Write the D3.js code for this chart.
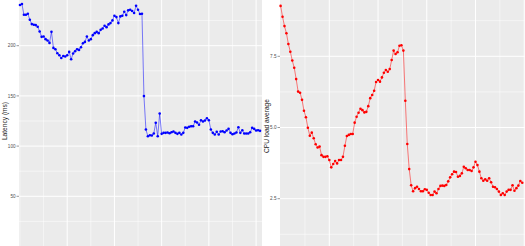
<!DOCTYPE html>
<html>
<meta charset="utf-8">

<style>
    body {
        margin: 0;
        background: #fff;
    }

    .tick-label {
        font: 4.6px "Liberation Sans", Arial, sans-serif;
        fill: #4d4d4d;
    }

    .axis-title {
        font: 6.6px "Liberation Sans", Arial, sans-serif;
        fill: #1a1a1a;
    }
</style>

<body>
    <script src="https://cdnjs.cloudflare.com/ajax/libs/d3/7.8.5/d3.min.js"></script>
    <div id="chart"></div>
    <script>
        // latency (ms), one value per sample
        var latency = [240.5, 241.5, 230.8, 230.8, 231.8, 225.8, 221.5, 220.8, 220.5, 218.8,
            214.2, 208.8, 209.2, 206.5, 205.2, 202.8, 213.8, 197.8, 196.5, 192.5,
            190.5, 187.8, 189.8, 189.2, 190.5, 193.8, 186.5, 192.2, 194.5, 196.5,
            195.8, 198.5, 202.5, 203.8, 209.2, 205.2, 206.5, 210.5, 212.5, 213.8,
            212.5, 215.8, 217.2, 219.8, 218.5, 221.2, 222.5, 225.2, 229.8, 228.5,
            222.5, 229.2, 229.8, 233.8, 230.5, 235.2, 235.8, 234.5, 232.5, 239.8,
            235.8, 231.5, 231.8, 149.8, 116.5, 109.8, 110.8, 110.5, 112.5, 123.2,
            109.8, 132.5, 112.2, 113.2, 113.2, 113.5, 112.8, 113.8, 114.5, 113.2,
            112.2, 113.2, 111.5, 113.2, 118.5, 118.2, 119.2, 119.8, 119.8, 124.5,
            123.5, 121.2, 125.8, 124.5, 125.5, 127.8, 125.8, 116.5, 113.2, 111.5,
            114.2, 111.5, 114.5, 114.8, 113.8, 115.5, 117.2, 113.2, 111.8, 112.5,
            113.5, 118.8, 113.2, 115.8, 112.5, 112.5, 112.5, 113.8, 118.2, 117.2,
            115.5, 115.8, 115.2];

        // CPU load average, one value per sample
        var cpuLoad = [9.27, 8.89, 8.56, 8.31, 7.93, 7.66, 7.35, 7.10, 6.70, 6.26,
            6.22, 5.97, 5.59, 5.36, 4.99, 4.71, 4.82, 4.62, 4.41, 4.30,
            4.33, 4.03, 3.97, 3.97, 3.99, 3.86, 3.60, 3.72, 3.82, 3.74,
            3.86, 3.86, 3.97, 4.36, 4.70, 4.74, 4.77, 4.77, 5.17, 5.38,
            5.52, 5.66, 5.61, 5.53, 5.55, 5.75, 6.03, 6.14, 6.29, 6.60,
            6.67, 6.61, 6.76, 6.92, 7.02, 6.96, 7.05, 7.37, 7.70, 7.58,
            7.64, 7.87, 7.89, 7.70, 5.94, 4.42, 3.54, 2.97, 2.76, 2.87,
            2.92, 2.84, 2.76, 2.76, 2.83, 2.81, 2.71, 2.63, 2.63, 2.75,
            2.69, 2.84, 2.95, 2.96, 2.95, 2.98, 3.11, 3.25, 3.36, 3.45,
            3.44, 3.27, 3.30, 3.39, 3.62, 3.57, 3.51, 3.51, 3.47, 3.60,
            3.80, 3.68, 3.45, 3.22, 3.13, 3.18, 3.13, 3.22, 3.08, 2.92,
            2.90, 2.84, 2.75, 2.63, 2.69, 2.63, 2.75, 2.81, 2.81, 2.97,
            2.78, 2.87, 2.96, 3.12, 3.06];

        var latencyBreaks = [50, 100, 150, 200];
        var latencyLabels = ["50", "100", "150", "200"];
        var latencyMinor = [25, 75, 125, 175, 225];

        var cpuBreaks = [2.5, 5.0, 7.5];
        var cpuLabels = ["2.5", "5.0", "7.5"];
        var cpuMinor = [1.25, 3.75, 6.25, 8.75];

        // x is the sample index
        var latencyXBreaks = [24, 48, 72, 96, 120];
        var latencyXMinor = [0, 12, 36, 60, 84, 108];
        var cpuXBreaks = [25, 50, 75, 100, 125];
        var cpuXMinor = [12.5, 37.5, 62.5, 87.5, 112.5];

        var W = 525, H = 246;

        var svg = d3.select("#chart").append("svg")
            .attr("width", W)
            .attr("height", H);

        function drawPanel(p) {
            var g = svg.append("g");

            var x = d3.scaleLinear().domain(p.xDomain).range([p.left, p.right]);
            var y = d3.scaleLinear().domain(p.yDomain).range(p.yRange);

            g.append("rect")
                .attr("x", p.left)
                .attr("y", p.top)
                .attr("width", p.right - p.left)
                .attr("height", H - p.top)
                .attr("fill", "#ebebeb");

            // minor grid
            g.selectAll(".ymin").data(p.yMinor).enter().append("line")
                .attr("x1", p.left).attr("x2", p.right)
                .attr("y1", y).attr("y2", y)
                .attr("stroke", "#fff").attr("stroke-width", 0.5);
            g.selectAll(".xmin").data(p.xMinor).enter().append("line")
                .attr("x1", x).attr("x2", x)
                .attr("y1", p.top).attr("y2", H)
                .attr("stroke", "#fff").attr("stroke-width", 0.5);

            // major grid
            g.selectAll(".ymaj").data(p.yBreaks).enter().append("line")
                .attr("x1", p.left).attr("x2", p.right)
                .attr("y1", y).attr("y2", y)
                .attr("stroke", "#fff").attr("stroke-width", 1);
            g.selectAll(".xmaj").data(p.xBreaks).enter().append("line")
                .attr("x1", x).attr("x2", x)
                .attr("y1", p.top).attr("y2", H)
                .attr("stroke", "#fff").attr("stroke-width", 1);

            // ticks + labels
            g.selectAll(".tk").data(p.yBreaks).enter().append("line")
                .attr("x1", p.left - 2.5).attr("x2", p.left)
                .attr("y1", y).attr("y2", y)
                .attr("stroke", "#333").attr("stroke-width", 0.5);
            g.selectAll(".tick-label").data(p.yBreaks).enter().append("text")
                .attr("class", "tick-label")
                .attr("x", p.left - 3.5)
                .attr("y", y)
                .attr("dy", "0.35em")
                .attr("text-anchor", "end")
                .text(function (d, i) { return p.yLabels[i]; });

            g.append("text")
                .attr("class", "axis-title")
                .attr("transform", "translate(" + p.titleX + "," + p.titleY + ") rotate(-90)")
                .attr("text-anchor", "middle")
                .attr("dy", "0.35em")
                .text(p.title);

            // data
            var line = d3.line()
                .x(function (d, i) { return x(i); })
                .y(function (d) { return y(d); });

            g.append("path")
                .datum(p.values)
                .attr("d", line)
                .attr("fill", "none")
                .attr("stroke", p.color)
                .attr("stroke-opacity", 0.5)
                .attr("stroke-width", 1);

            g.selectAll(".pt").data(p.values).enter().append("circle")
                .attr("cx", function (d, i) { return x(i); })
                .attr("cy", function (d) { return y(d); })
                .attr("r", 1.3)
                .attr("fill", p.color);
        }

        drawPanel({
            values: latency, color: "#0000ff",
            left: 19, right: 262, top: 0,
            xDomain: [-0.5, 123], yDomain: [0, 200], yRange: [246.5, 45.7],
            yBreaks: latencyBreaks, yLabels: latencyLabels, yMinor: latencyMinor,
            xBreaks: latencyXBreaks, xMinor: latencyXMinor,
            title: "Latency (ms)", titleX: 4.5, titleY: 121
        });

        drawPanel({
            values: cpuLoad, color: "#ff0000",
            left: 280, right: 525, top: 0,
            xDomain: [-0.3, 125.4], yDomain: [2.5, 7.5], yRange: [198.7, 56.3],
            yBreaks: cpuBreaks, yLabels: cpuLabels, yMinor: cpuMinor,
            xBreaks: cpuXBreaks, xMinor: cpuXMinor,
            title: "CPU load average", titleX: 267, titleY: 126
        });
    </script>
</body>

</html>
